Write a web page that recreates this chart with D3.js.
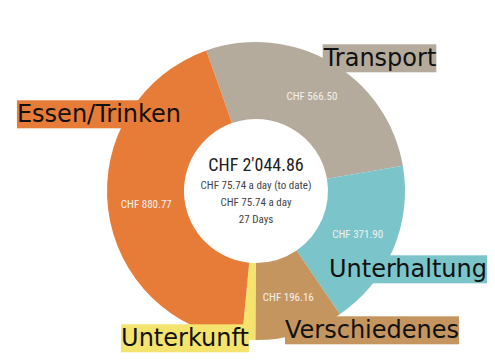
<!DOCTYPE html>
<html>
<head>
<meta charset="utf-8">
<script src="https://cdn.jsdelivr.net/npm/d3@7"></script>
<style>
  body { margin: 0; background: #fff; }
  svg { display: block; }
</style>
</head>
<body>
<svg id="chart"></svg>
<script>
// data
var categories = ["Transport", "Unterhaltung", "Verschiedenes", "Unterkunft", "Essen/Trinken"];
var amounts = [566.50, 371.90, 196.16, 29.53, 880.77];
var colors = ["#b4ab9d", "#7bc4ca", "#c5955f", "#f4e36c", "#e77b38"];
var perDayToDate = 75.74;
var perDay = 75.74;
var days = 27;

var width = 495, height = 364;
var cx = 256, cy = 191;
var outerR = 149, innerR = 72;

// outside label box centres relative to chart centre (hand placed in original)
var labelNudge = [[124, -133], [152, 78], [116, 139], [-71, 147], [-157, -77]];

var svg = d3.select('#chart').attr("width", width).attr("height", height);

var locale = d3.formatLocale({ decimal: ".", thousands: "'", grouping: [3], currency: ["CHF ", ""] });
var fmt = locale.format("$,.2f");

var data = categories.map(function (c, i) { return { name: c, value: amounts[i], color: colors[i] }; });

var pie = d3.pie()
    .sort(null)
    .value(function (d) { return d.value; })
    .startAngle(-0.34)
    .endAngle(-0.34 + 2 * Math.PI);

var arc = d3.arc().innerRadius(innerR).outerRadius(outerR);

var g = svg.append("g").attr("transform", "translate(" + cx + "," + cy + ")");

var arcs = pie(data);

g.selectAll("path")
    .data(arcs)
    .enter()
    .append("path")
    .attr("d", arc)
    .attr("fill", function (d) { return d.data.color; });

// value labels inside slices
g.selectAll("text.val")
    .data(arcs.filter(function (d) { return d.endAngle - d.startAngle > 0.3; }))
    .enter()
    .append("text")
    .attr("class", "val")
    .text(function (d) { return fmt(d.data.value); })
    .attr("transform", function (d) { return "translate(" + arc.centroid(d) + ")"; })
    .attr("text-anchor", "middle")
    .attr("dy", "0.35em")
    .attr("fill", "#f4f1ec")
    .attr("font-family", "'Liberation Sans Narrow', 'Roboto Condensed', Roboto, sans-serif")
    .attr("font-size", "11px");

// centre text
var centerLines = [
    { text: fmt(d3.sum(amounts)), size: 18, color: "#222", y: -20 },
    { text: fmt(perDayToDate) + " a day (to date)", size: 11, color: "#444", y: -2 },
    { text: fmt(perDay) + " a day", size: 11, color: "#444", y: 15 },
    { text: days + " Days", size: 11, color: "#444", y: 32 }
];
g.selectAll("text.center")
    .data(centerLines)
    .enter()
    .append("text")
    .attr("class", "center")
    .text(function (d) { return d.text; })
    .attr("x", 0)
    .attr("y", function (d) { return d.y; })
    .attr("text-anchor", "middle")
    .attr("fill", function (d) { return d.color; })
    .attr("font-family", "'Liberation Sans Narrow', 'Roboto Condensed', Roboto, sans-serif")
    .attr("font-size", function (d) { return d.size + "px"; });

// big category labels with coloured background
var labels = g.selectAll("g.lbl")
    .data(arcs)
    .enter()
    .append("g")
    .attr("class", "lbl")
    .attr("transform", function (d, i) { return "translate(" + labelNudge[i][0] + "," + labelNudge[i][1] + ")"; });

labels.append("text")
    .text(function (d) { return d.data.name; })
    .attr("text-anchor", "middle")
    .attr("y", 8.3)
    .attr("fill", "#111")
    .attr("font-family", "'DejaVu Sans', Verdana, sans-serif")
    .attr("font-size", "24px");

labels.each(function (d) {
    var t = d3.select(this).select("text");
    var b = t.node().getBBox();
    d3.select(this).insert("rect", "text")
        .attr("x", b.x)
        .attr("y", b.y)
        .attr("width", b.width)
        .attr("height", b.height)
        .attr("fill", d.data.color);
});
</script>
</body>
</html>
